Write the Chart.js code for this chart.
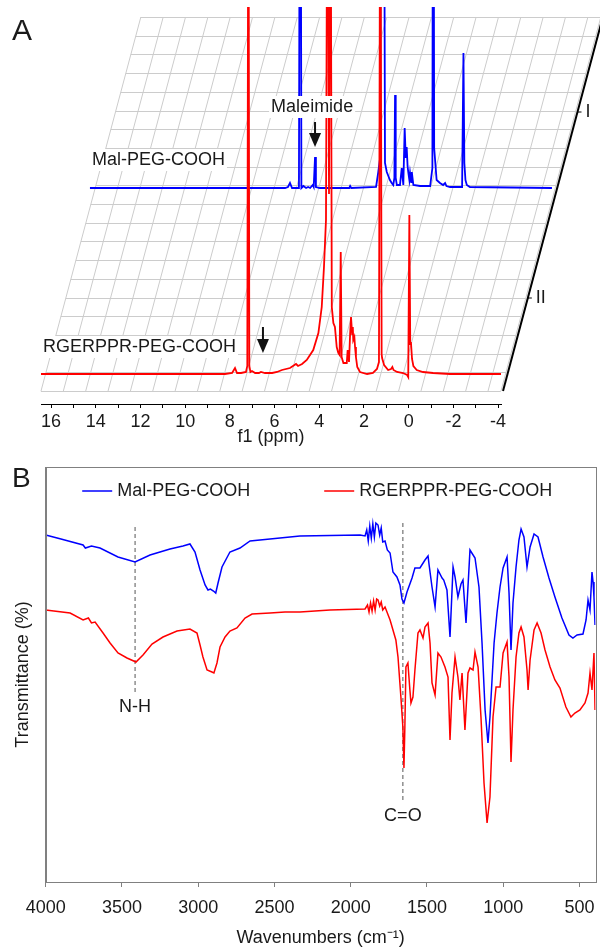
<!DOCTYPE html>
<html><head><meta charset="utf-8">
<script src="https://cdn.jsdelivr.net/npm/chart.js@4.4.1/dist/chart.umd.min.js"></script>
<style>
html,body{margin:0;padding:0;background:#fff;width:600px;height:951px;overflow:hidden}
#a{position:absolute;left:0;top:0}
#b{position:absolute;left:0;top:455px}
</style></head><body>
<canvas id="a" width="600" height="455"></canvas>
<canvas id="b" width="600" height="496"></canvas>
<script>
// ---------------- DATA ----------------
// Panel A: 1H NMR, [ppm, intensity] (off-scale peaks given as 600, clipped at top)
const nmrRGERPPR = [[16.45,0],[8.22,0],[7.90,1],[7.77,6],[7.68,1],[7.50,1],[7.28,2],[7.22,8],[7.17,600],[7.13,8],[7.08,2],[7.01,3],[6.87,1],[6.70,1],[6.61,2],[6.43,1],[6.11,1],[5.89,2],[5.67,4],[5.31,6],[5.04,10],[4.95,8],[4.77,10],[4.56,14],[4.27,24],[4.04,41],[3.89,67],[3.79,107],[3.70,154],[3.63,600],[3.565,180],[3.50,600],[3.44,67],[3.37,51],[3.30,47],[3.22,27],[3.15,21],[3.09,19],[3.04,122],[3.00,17],[2.92,11],[2.77,11],[2.73,24],[2.67,12],[2.62,40],[2.58,57],[2.53,40],[2.50,47],[2.48,34],[2.43,37],[2.40,27],[2.36,17],[2.30,7],[2.18,2],[1.86,0],[1.60,1],[1.42,5],[1.33,12],[1.27,600],[1.21,20],[1.19,16],[1.10,9],[0.92,4],[0.79,5],[0.73,7],[0.68,4],[0.52,2],[0.25,1],[0.07,-1],[0.02,-3],[-0.03,159],[-0.07,30],[-0.10,32],[-0.15,15],[-0.21,8],[-0.36,4],[-0.64,2],[-1.09,1],[-1.85,0],[-4.13,0]];
const nmrMal = [[16.63,0],[7.90,0],[7.77,1],[7.68,5],[7.59,0],[7.28,0],[7.22,600],[7.17,0],[7.08,2],[6.96,0],[6.87,1],[6.78,0],[6.66,3],[6.62,1],[6.56,31],[6.52,1],[6.34,0],[5.03,0],[4.99,2],[4.94,0],[3.83,1],[3.73,16],[3.65,30],[3.58,600],[3.50,600],[3.43,25],[3.35,16],[3.28,12],[3.21,8],[3.13,5],[3.06,3],[3.01,10],[2.98,93],[2.95,10],[2.90,3],[2.76,3],[2.68,20],[2.61,3],[2.55,60],[2.50,30],[2.46,41],[2.42,22],[2.39,16],[2.34,8],[2.31,15],[2.26,6],[2.23,16],[2.16,3],[1.86,2],[1.41,2],[1.31,20],[1.27,600],[1.23,40],[1.12,8],[0.97,5],[0.83,3],[0.74,5],[0.68,2],[0.52,1],[-0.02,1],[-0.08,135],[-0.12,25],[-0.17,8],[-0.23,3],[-0.37,1],[-4.04,0]];
const nmrLabels = ['Mal-PEG-COOH','RGERPPR-PEG-COOH'];
const nmrTraceTicks = ['I','II'];
const ppmTicks = [16,15,14,13,12,11,10,9,8,7,6,5,4,3,2,1,0,-1,-2,-3,-4];

// Panel B: FTIR, [wavenumber cm-1, transmittance (arb.)]
const irMal = [[4000,347],[3900,343],[3755,337],[3740,334],[3700,336],[3644,334],[3526,325],[3414,320],[3316,327],[3185,333],[3100,336],[3054,338],[3021,330],[2988,312],[2955,297],[2936,292],[2920,293],[2900,291],[2885,289],[2870,299],[2844,315],[2792,330],[2726,334],[2660,341],[2529,343],[2333,346],[1939,347],[1906,346],[1895,352],[1885,341],[1875,356],[1865,344],[1855,358],[1845,345],[1835,359],[1821,357],[1810,347],[1800,354],[1790,340],[1775,341],[1760,332],[1742,329],[1723,310],[1697,305],[1677,297],[1664,283],[1651,279],[1640,285],[1631,290],[1598,304],[1579,314],[1546,314],[1513,322],[1493,326],[1486,317],[1467,295],[1447,275],[1428,312],[1401,304],[1390,302],[1369,292],[1349,245],[1329,315],[1316,305],[1297,285],[1277,298],[1264,302],[1244,259],[1218,332],[1185,324],[1159,295],[1139,239],[1119,172],[1100,139],[1087,165],[1060,239],[1041,269],[1021,295],[1001,314],[975,325],[962,289],[949,232],[936,279],[916,315],[897,342],[883,353],[864,345],[844,315],[824,335],[798,348],[772,345],[739,325],[700,304],[661,285],[615,264],[569,247],[543,244],[516,247],[477,248],[457,262],[444,282],[431,272],[418,310],[411,300],[405,285],[398,257]];
const irRGERPPR = [[4000,272],[3840,269],[3755,262],[3720,264],[3700,259],[3676,260],[3624,249],[3578,239],[3526,229],[3467,224],[3408,220],[3362,227],[3303,238],[3231,245],[3139,251],[3054,253],[3008,249],[2988,237],[2969,225],[2942,212],[2910,210],[2897,209],[2877,219],[2857,235],[2824,245],[2792,251],[2746,254],[2693,264],[2647,268],[2529,269],[2431,270],[2333,270],[2136,272],[1906,273],[1890,277],[1880,270],[1870,279],[1860,271],[1850,281],[1840,272],[1830,283],[1821,282],[1810,276],[1800,280],[1790,272],[1775,275],[1742,262],[1723,252],[1704,242],[1690,225],[1671,185],[1658,155],[1651,114],[1645,155],[1638,215],[1625,219],[1612,192],[1605,179],[1592,185],[1579,212],[1559,249],[1546,252],[1526,244],[1513,255],[1493,259],[1480,239],[1467,199],[1447,187],[1428,229],[1408,225],[1382,215],[1362,205],[1349,142],[1336,189],[1316,225],[1297,205],[1284,182],[1270,209],[1251,152],[1231,209],[1218,214],[1198,212],[1185,230],[1165,215],[1146,165],[1126,99],[1106,59],[1087,85],[1067,165],[1047,195],[1021,195],[1001,229],[975,240],[962,205],[949,120],[936,172],[916,225],[897,249],[883,255],[864,245],[844,212],[837,192],[824,222],[798,252],[778,259],[752,249],[726,232],[693,215],[661,202],[628,194],[589,175],[556,165],[530,169],[497,172],[464,179],[444,189],[431,209],[418,192],[405,229],[398,172]];
const irLabels = ['Mal-PEG-COOH','RGERPPR-PEG-COOH'];
const wnTicks = [4000,3500,3000,2500,2000,1500,1000,500];
const bandNames = ['N-H','C=O'];
const bandWn = [3414, 1658];
const bandTop = [355, 359];
const bandBottom = [189, 80];

// ---------------- STYLE ----------------
const FONT = '"Liberation Sans", Arial, Helvetica, sans-serif';
const TXT = '#1a1a1a';
const BLUE = '#0000ff', RED = '#ff0000';
const SKEW = 0.267;

function textBg(ctx, s, x, y, align) {
  const w = ctx.measureText(s).width;
  const x0 = align === 'center' ? x - w/2 : x;
  ctx.fillStyle = '#fff';
  ctx.fillRect(x0 - 2, y - 11, w + 4, 22);
  ctx.fillStyle = TXT;
  ctx.textAlign = align; ctx.textBaseline = 'middle';
  ctx.fillText(s, x, y);
}
function arrowDown(ctx, x, y1, y2) {
  ctx.save();
  ctx.strokeStyle = '#111'; ctx.fillStyle = '#111'; ctx.lineWidth = 2;
  ctx.beginPath(); ctx.moveTo(x, y1); ctx.lineTo(x, y2 - 10); ctx.stroke();
  ctx.beginPath(); ctx.moveTo(x - 6, y2 - 14); ctx.lineTo(x + 6, y2 - 14); ctx.lineTo(x, y2); ctx.closePath(); ctx.fill();
  ctx.restore();
}

const nmrPlugin = {
  id: 'nmrDecor',
  beforeDatasetsDraw(chart) {
    const ctx = chart.ctx, xs = chart.scales.x, ys = chart.scales.y;
    const yB = ys.getPixelForValue(-17), yT = ys.getPixelForValue(357);
    const xl = xs.getPixelForValue(16.45), xr = xs.getPixelForValue(-4.13);
    ctx.save();
    ctx.strokeStyle = '#cccccc'; ctx.lineWidth = 1;
    const rows = 20;
    for (let k = 0; k <= rows; k++) {
      const y = Math.round(yB + (yT - yB) * k / rows) + 0.5;
      const d = (yB - y) * SKEW;
      ctx.beginPath(); ctx.moveTo(xl + d, y); ctx.lineTo(xr + d, y); ctx.stroke();
    }
    const cols = [];
    for (let p = 16.45; p > -4.0; p -= 1) cols.push(p);
    cols.push(-4.13);
    cols.forEach(p => {
      const x = xs.getPixelForValue(p);
      ctx.beginPath(); ctx.moveTo(x, yB); ctx.lineTo(x + (yB - yT) * SKEW, yT); ctx.stroke();
    });
    // depth axis (black)
    const xb = xs.getPixelForValue(-4.22);
    ctx.strokeStyle = '#000'; ctx.lineWidth = 2;
    ctx.beginPath(); ctx.moveTo(xb, yB); ctx.lineTo(xb + (yB - yT + 4) * SKEW, yT - 4); ctx.stroke();
    // trace ticks I, II
    ctx.lineWidth = 1;
    ctx.font = '18px ' + FONT; ctx.fillStyle = TXT; ctx.textBaseline = 'middle'; ctx.textAlign = 'left';
    const tickY = [chart.scales.y2.getPixelForValue(76), ys.getPixelForValue(76)];
    tickY.forEach((y, i) => {
      const x = xb + (yB - y) * SKEW;
      ctx.beginPath(); ctx.moveTo(x, y); ctx.lineTo(x + 4, y); ctx.stroke();
      ctx.fillText(nmrTraceTicks[i], x + 8, y);
    });
    ctx.restore();
  },
  afterDraw(chart) {
    const ctx = chart.ctx, xs = chart.scales.x, ys = chart.scales.y;
    const x2 = chart.scales.x2, y2 = chart.scales.y2;
    ctx.save();
    ctx.font = '30px ' + FONT; ctx.fillStyle = TXT; ctx.textBaseline = 'middle'; ctx.textAlign = 'left';
    ctx.fillText('A', 12, 32);
    ctx.font = '18px ' + FONT;
    textBg(ctx, nmrLabels[0], x2.getPixelForValue(16.54), y2.getPixelForValue(28), 'left');
    textBg(ctx, 'Maleimide', x2.getPixelForValue(6.69), y2.getPixelForValue(81), 'center');
    textBg(ctx, nmrLabels[1], xs.getPixelForValue(16.36), ys.getPixelForValue(27), 'left');
    arrowDown(ctx, x2.getPixelForValue(6.56), y2.getPixelForValue(66), y2.getPixelForValue(41));
    arrowDown(ctx, xs.getPixelForValue(6.52), ys.getPixelForValue(47), ys.getPixelForValue(21));
    ctx.restore();
  }
};

new Chart(document.getElementById('a'), {
  type: 'line',
  data: { datasets: [
    { label: nmrLabels[1], data: nmrRGERPPR.map(([x, y]) => ({x, y})), xAxisID: 'x', yAxisID: 'y',
      borderColor: RED, borderWidth: 1.8, pointRadius: 0, tension: 0, fill: false },
    { label: nmrLabels[0], data: nmrMal.map(([x, y]) => ({x, y})), xAxisID: 'x2', yAxisID: 'y2',
      borderColor: BLUE, borderWidth: 1.8, pointRadius: 0, tension: 0, fill: false,
      clip: {left: 0, top: 0, right: 100, bottom: 0} }
  ]},
  options: {
    responsive: false, animation: false, devicePixelRatio: 1,
    layout: { padding: { left: 41, right: 99, top: 7, bottom: 0 } },
    plugins: { legend: { display: false }, tooltip: { enabled: false } },
    scales: {
      x: { type: 'linear', reverse: true, min: -4.13, max: 16.45, position: 'bottom',
        border: { display: true, color: '#000', width: 1 },
        grid: { display: true, drawOnChartArea: false, drawTicks: true, tickLength: 4, color: '#000' },
        afterBuildTicks(s) { s.ticks = ppmTicks.map(v => ({ value: v })); },
        ticks: { autoSkip: false, maxRotation: 0, minRotation: 0,
          padding: 3, color: TXT, font: { family: FONT, size: 18 },
          callback: v => (Math.round(v) % 2 === 0 ? String(Math.round(v)) : '') },
        title: { display: true, text: 'f1 (ppm)', color: TXT, font: { family: FONT, size: 18 }, padding: { top: 0, bottom: 7 } },
        afterFit(s) { s.height = 51; s.paddingLeft = 0; s.paddingRight = 0; }
      },
      y: { type: 'linear', display: false, min: -30, max: 367 },
      x2: { type: 'linear', display: false, reverse: true, min: -1.76, max: 18.82 },
      y2: { type: 'linear', display: false, min: -216, max: 181 }
    }
  },
  plugins: [nmrPlugin]
});

// ---------------- PANEL B ----------------
const irPlugin = {
  id: 'irDecor',
  afterDatasetsDraw(chart) {
    const ctx = chart.ctx, a = chart.chartArea, xs = chart.scales.x, ys = chart.scales.y;
    ctx.save();
    ctx.strokeStyle = '#808080'; ctx.lineWidth = 1;
    ctx.strokeRect(Math.round(a.left) + 0.5, Math.round(a.top) + 0.5, Math.round(a.right - a.left), Math.round(a.bottom - a.top));
    // legend
    ctx.font = '18px ' + FONT; ctx.textBaseline = 'middle'; ctx.textAlign = 'left';
    const colors = [BLUE, RED];
    const starts = [a.left + 36.5, a.left + 278.5];
    const y = a.top + 24;
    irLabels.forEach((s, i) => {
      const x = starts[i];
      ctx.strokeStyle = colors[i]; ctx.lineWidth = 1.5;
      ctx.beginPath(); ctx.moveTo(x, y); ctx.lineTo(x + 30, y); ctx.stroke();
      ctx.fillStyle = TXT; ctx.fillText(s, x + 35, y);
    });
    // band labels
    ctx.textAlign = 'center';
    bandNames.forEach((s, i) => {
      ctx.fillText(s, xs.getPixelForValue(bandWn[i]), ys.getPixelForValue(bandBottom[i]) + 14);
    });
    ctx.font = '28px ' + FONT; ctx.textAlign = 'left';
    ctx.fillText('B', 12, 24);
    ctx.restore();
  }
};

const bandSets = bandNames.map((n, i) => ({
  label: n, data: [{x: bandWn[i], y: bandTop[i]}, {x: bandWn[i], y: bandBottom[i]}],
  borderColor: '#555', borderWidth: 1, borderDash: [4, 3], pointRadius: 0, order: 3, fill: false
}));

new Chart(document.getElementById('b'), {
  type: 'line',
  data: { datasets: [
    { label: irLabels[1], data: irRGERPPR.map(([x, y]) => ({x, y})), borderColor: RED, borderWidth: 1.5, pointRadius: 0, tension: 0, order: 1, fill: false },
    { label: irLabels[0], data: irMal.map(([x, y]) => ({x, y})), borderColor: BLUE, borderWidth: 1.5, pointRadius: 0, tension: 0, order: 2, fill: false },
    ...bandSets
  ]},
  options: {
    responsive: false, animation: false, devicePixelRatio: 1,
    layout: { padding: { left: 0, right: 4.5, top: 12, bottom: 0 } },
    plugins: { legend: { display: false }, tooltip: { enabled: false } },
    scales: {
      x: { type: 'linear', reverse: true, min: 395, max: 4000,
        border: { display: true, color: '#808080', width: 1 },
        grid: { display: true, drawOnChartArea: false, drawTicks: true, tickLength: 5, color: '#808080' },
        afterBuildTicks(s) { s.ticks = wnTicks.map(v => ({ value: v })); },
        ticks: { autoSkip: false, maxRotation: 0, minRotation: 0,
          padding: 10, color: TXT, font: { family: FONT, size: 18 }, callback: v => String(v) },
        title: { display: true, text: 'Wavenumbers (cm\u207B\u00B9)', color: TXT, font: { family: FONT, size: 18 }, padding: { top: 0, bottom: 2 } },
        afterFit(s) { s.height = 69; s.paddingLeft = 0; s.paddingRight = 0; }
      },
      y: { type: 'linear', min: 0, max: 415,
        border: { display: true, color: '#808080', width: 1 },
        grid: { display: false, drawTicks: false },
        ticks: { display: false },
        title: { display: true, text: 'Transmittance (%)', color: TXT, font: { family: FONT, size: 18 }, padding: { top: 12, bottom: 0 } },
        afterFit(s) { s.width = 45.7; }
      }
    }
  },
  plugins: [irPlugin]
});
</script>
</body></html>
